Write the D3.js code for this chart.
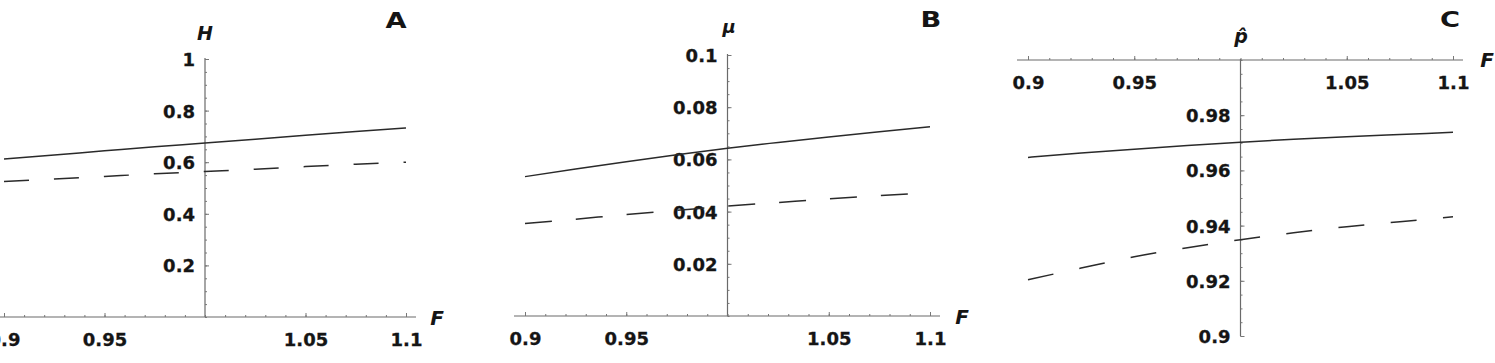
<!DOCTYPE html>
<html>
<head>
<meta charset="utf-8">
<script src="https://cdn.jsdelivr.net/npm/d3@7"></script>
<style>
  html, body { margin: 0; padding: 0; background: #fff; }
  svg { display: block; }
  .tick text { font-family: "DejaVu Sans", sans-serif; font-weight: bold; font-size: 18px; fill: #151515; stroke: #151515; stroke-width: 0.3px; }
  .tick line { stroke: #777; stroke-width: 1; }
  .axisLabel { font-family: "DejaVu Sans", sans-serif; font-weight: bold; font-style: italic; fill: #151515; }
  .panelTag { font-family: "DejaVu Sans", sans-serif; font-weight: bold; font-size: 21px; fill: #151515; }
</style>
</head>
<body>
<script>
// Shared x values (F)
var F = [0.9, 0.925, 0.95, 0.975, 1.0, 1.025, 1.05, 1.075, 1.1];
var xTickLabels = [0.9, 0.95, 1.05, 1.1];

// Panel A: H
var hSolid = [0.612, 0.628, 0.644, 0.660, 0.674, 0.689, 0.704, 0.719, 0.733];
var hDashed = [0.525, 0.535, 0.545, 0.555, 0.564, 0.573, 0.583, 0.592, 0.600];
var hTicks = [0.2, 0.4, 0.6, 0.8, 1];

// Panel B: mu
var muSolid = [0.0534, 0.0563, 0.0591, 0.0618, 0.0643, 0.0665, 0.0686, 0.0706, 0.0725];
var muDashed = [0.0354, 0.0371, 0.0389, 0.0405, 0.0421, 0.0435, 0.0449, 0.0461, 0.0473];
var muTicks = [0.02, 0.04, 0.06, 0.08, 0.1];

// Panel C: p-hat
var pSolid = [0.9647, 0.9663, 0.9677, 0.9690, 0.9702, 0.9713, 0.9722, 0.9730, 0.9738];
var pDashed = [0.9204, 0.9246, 0.9287, 0.9320, 0.9349, 0.9374, 0.9396, 0.9414, 0.9432];
var pTicks = [0.9, 0.92, 0.94, 0.96, 0.98];

var W = 1495, H = 363;
var svg = d3.select('body').append('svg').attr('width', W).attr('height', H);

var fmt = function (d) { return String(+d.toFixed(3)); };

var panels = [
    {
        tag: 'A', tagX: 396, tagY: 28,
        xRange: [4, 406], yDomain: [0, 1], yRange: [317, 59],
        yTicks: hTicks, yMinorStep: 0.05, axisAtTop: false,
        solid: hSolid, dashed: hDashed, dash: '25,25',
        yLabel: 'H', yLabelX: 205, yLabelY: 40, yLabelSize: 19,
        fLabelX: 437, fLabelY: 325
    },
    {
        tag: 'B', tagX: 931, tagY: 27,
        xRange: [525, 930], yDomain: [0, 0.1], yRange: [316, 55],
        yTicks: muTicks, yMinorStep: 0.005, axisAtTop: false,
        solid: muSolid, dashed: muDashed, dash: '27,24',
        yLabel: '\u03bc', yLabelX: 729, yLabelY: 33, yLabelSize: 18,
        fLabelX: 962, fLabelY: 324
    },
    {
        tag: 'C', tagX: 1450, tagY: 27,
        xRange: [1028, 1453], yDomain: [0.9, 1.0], yRange: [336, 60],
        yTicks: pTicks, yMinorStep: 0.005, axisAtTop: true,
        solid: pSolid, dashed: pDashed, dash: '26,26.5',
        yLabel: 'p\u0302', yLabelX: 1241, yLabelY: 43, yLabelSize: 19,
        fLabelX: 1487, fLabelY: 67
    }
];

panels.forEach(function (p) {
    var x = d3.scaleLinear().domain([0.9, 1.1]).range(p.xRange),
        y = d3.scaleLinear().domain(p.yDomain).range(p.yRange),
        g = svg.append('g'),
        x0 = x(1.0),
        yAxisPos = p.axisAtTop ? y(p.yDomain[1]) : y(p.yDomain[0]);

    // Axis lines (Mathematica style: cross at F = 1)
    g.append('line')
        .attr('x1', x(0.9) - 11).attr('x2', x(1.1) + 10)
        .attr('y1', yAxisPos).attr('y2', yAxisPos)
        .attr('stroke', '#6a6a6a').attr('stroke-width', 1.2);
    g.append('line')
        .attr('x1', x0).attr('x2', x0)
        .attr('y1', y(p.yDomain[0])).attr('y2', y(p.yDomain[1]) - 1)
        .attr('stroke', '#6a6a6a').attr('stroke-width', 1.2);

    // minor x ticks
    var xMinor = d3.range(0.9, 1.1001, 0.01);
    g.append('g').attr('transform', 'translate(0,' + yAxisPos + ')')
        .call(d3.axisBottom(x).tickValues(xMinor).tickSizeInner(-2).tickSizeOuter(0).tickFormat(''))
        .call(function (s) { s.select('.domain').remove(); });
    // major x ticks + labels
    g.append('g').attr('transform', 'translate(0,' + yAxisPos + ')')
        .call(d3.axisBottom(x).tickValues(xTickLabels).tickSizeInner(-4).tickSizeOuter(0)
            .tickPadding(16).tickFormat(fmt))
        .call(function (s) { s.select('.domain').remove(); });

    // minor y ticks
    var yMinor = d3.range(p.yDomain[0], p.yDomain[1] + p.yMinorStep / 2, p.yMinorStep);
    g.append('g').attr('transform', 'translate(' + x0 + ',0)')
        .call(d3.axisLeft(y).tickValues(yMinor).tickSizeInner(-2).tickSizeOuter(0).tickFormat(''))
        .call(function (s) { s.select('.domain').remove(); });
    // major y ticks + labels
    g.append('g').attr('transform', 'translate(' + x0 + ',0)')
        .call(d3.axisLeft(y).tickValues(p.yTicks).tickSizeInner(-4).tickSizeOuter(0)
            .tickPadding(10).tickFormat(fmt))
        .call(function (s) {
            s.select('.domain').remove();
            s.selectAll('.tick text').attr('dy', '0.36em');
        });

    var line = d3.line()
        .x(function (d, i) { return x(F[i]); })
        .y(function (d) { return y(d); })
        .curve(d3.curveMonotoneX);

    g.append('path').datum(p.solid)
        .attr('d', line)
        .attr('fill', 'none').attr('stroke', '#2a2a2a').attr('stroke-width', 1.5);
    g.append('path').datum(p.dashed)
        .attr('d', line)
        .attr('fill', 'none').attr('stroke', '#2a2a2a').attr('stroke-width', 1.5)
        .attr('stroke-dasharray', p.dash);

    // axis labels
    g.append('text').attr('class', 'axisLabel')
        .attr('x', p.yLabelX).attr('y', p.yLabelY)
        .attr('text-anchor', 'middle')
        .style('font-size', p.yLabelSize + 'px')
        .text(p.yLabel);
    g.append('text').attr('class', 'axisLabel')
        .attr('x', p.fLabelX).attr('y', p.fLabelY)
        .attr('text-anchor', 'middle')
        .style('font-size', '20px')
        .text('F');

    // panel tag, a bit wider than the font draws it
    g.append('text').attr('class', 'panelTag')
        .attr('transform', 'translate(' + p.tagX + ',' + p.tagY + ') scale(1.3,1)')
        .attr('text-anchor', 'middle')
        .text(p.tag);
});
</script>
</body>
</html>
